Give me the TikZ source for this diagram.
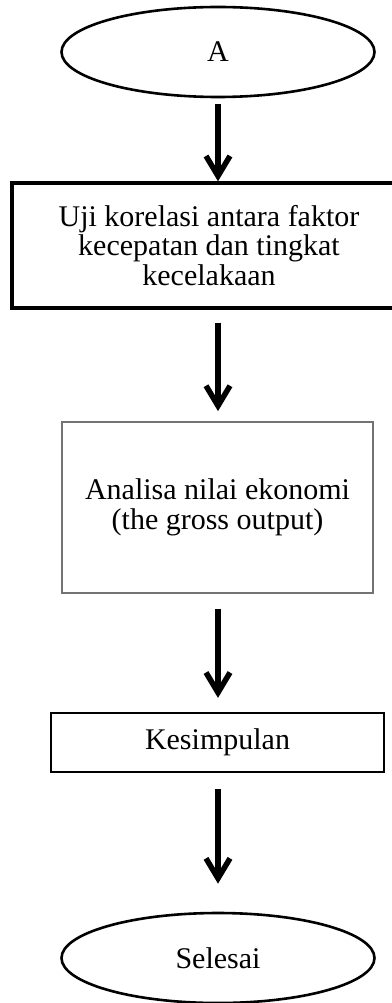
\documentclass[tikz,border=0pt]{standalone}
\usepackage{fontspec}
\setmainfont{Liberation Serif}
\usetikzlibrary{arrows.meta,positioning,shapes.geometric}

\tikzset{
  terminal/.style={draw, ellipse, line width=2.6pt, inner sep=0pt,
                   minimum width=313pt, minimum height=90pt},
  procbox/.style={draw, rectangle, align=center, inner sep=0pt},
  flowarrow/.style={->, line width=5.5pt}
}

\begin{document}
\begin{tikzpicture}[x=1pt,y=-1pt,>={Straight Barb[length=20pt,width=24pt]},
  every node/.style={font=\fontsize{30}{29.8}\selectfont}]
\useasboundingbox (0,0) rectangle (391,1003);
\node[terminal] (A) at (218,52) {A};
\node[procbox, line width=3.4pt, minimum width=394pt, minimum height=125pt]
  (uji) at (209,245.5) {Uji korelasi antara faktor\\kecepatan dan tingkat\\kecelakaan};
\node[procbox, draw=black!55, line width=1.8pt, minimum width=311pt, minimum height=171pt]
  (analisa) at (217.5,507.5) {Analisa nilai ekonomi\\(the gross output)};
\node[procbox, line width=2.3pt, minimum width=333pt, minimum height=59pt]
  (kes) at (217.5,742.5) {Kesimpulan};
\node[terminal] (selesai) at (218,958) {Selesai};

\foreach \from/\to/\ga/\gb in {A/uji/6/0, uji/analisa/13/10,
                               analisa/kes/15/14, kes/selesai/16/28}
  \draw[flowarrow, shorten <=\ga pt, shorten >=\gb pt]
    (\from.south -| A) -- (\to.north -| A);
\end{tikzpicture}
\end{document}
